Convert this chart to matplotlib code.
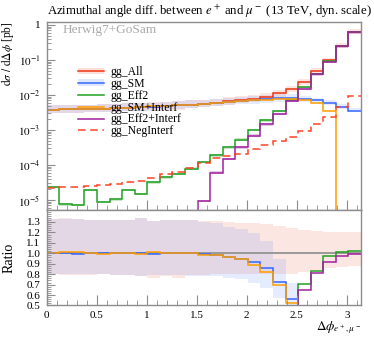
import numpy as np
import matplotlib
matplotlib.use("Agg")
import matplotlib.pyplot as plt
from matplotlib.patches import Patch
from matplotlib.lines import Line2D
from matplotlib.ticker import MultipleLocator, FixedLocator, LogLocator, FuncFormatter, NullFormatter

plt.rcParams['font.family'] = ['Liberation Serif', 'DejaVu Serif']
plt.rcParams['mathtext.fontset'] = 'stix'

# ---------------- data ----------------
n_bins = 25
x_min, x_max = 0.0, np.pi

gg_all = [3.80e-3, 3.86e-3, 3.92e-3, 4.02e-3, 4.10e-3, 4.22e-3, 4.35e-3, 4.50e-3, 4.66e-3, 4.85e-3,
          5.05e-3, 5.30e-3, 5.66e-3, 6.04e-3, 6.58e-3, 7.16e-3, 7.83e-3, 8.84e-3, 1.11e-2, 1.48e-2,
          2.35e-2, 4.80e-2, 9.70e-2, 0.250, 0.620]
gg_sm = [3.80e-3, 3.86e-3, 3.91e-3, 4.03e-3, 4.10e-3, 4.22e-3, 4.36e-3, 4.50e-3, 4.65e-3, 4.85e-3,
         5.06e-3, 5.30e-3, 5.60e-3, 5.95e-3, 6.35e-3, 6.80e-3, 7.20e-3, 7.60e-3, 8.10e-3, 8.30e-3,
         7.80e-3, 7.00e-3, 6.00e-3, 4.60e-3, 3.60e-3]
gg_eff2 = [2.4e-5, 7.5e-6, 7.2e-6, 1.94e-5, 8.7e-6, 1.04e-5, 1.94e-5, 1.5e-5, 3.2e-5, 4.4e-5,
           5.5e-5, 7.9e-5, 1.2e-4, 1.9e-4, 3.2e-4, 5.3e-4, 1.0e-3, 1.9e-3, 3.5e-3, 7.3e-3,
           1.67e-2, 4.0e-2, 9.45e-2, 0.2525, 0.632]
gg_sm_interf = [3.82e-3, 3.90e-3, 3.96e-3, 4.02e-3, 4.09e-3, 4.24e-3, 4.37e-3, 4.46e-3, 4.71e-3, 4.85e-3,
                5.04e-3, 5.30e-3, 5.58e-3, 5.92e-3, 6.32e-3, 6.77e-3, 6.97e-3, 7.25e-3, 7.77e-3, 7.70e-3,
                7.00e-3, 5.90e-3, 3.40e-3, 0.0, 0.0]
gg_eff2_interf = [0.0, 0.0, 0.0, 0.0, 0.0, 0.0, 0.0, 0.0, 0.0, 0.0,
                  0.0, 0.0, 9.3e-6, 6.1e-5, 1.48e-4, 3.2e-4, 6.9e-4, 1.44e-3, 2.9e-3, 6.7e-3,
                  1.53e-2, 3.9e-2, 8.9e-2, 0.244, 0.614]
gg_neg_interf = [2.2e-5, 2.3e-5, 2.4e-5, 2.5e-5, 2.7e-5, 2.9e-5, 3.2e-5, 3.6e-5, 4.2e-5, 5.5e-5,
                 6.4e-5, 8.2e-5, 1.15e-4, 1.6e-4, 1.8e-4, 2.1e-4, 2.9e-4, 3.8e-4, 5.0e-4, 6.5e-4,
                 9.6e-4, 1.5e-3, 2.4e-3, 4.5e-3, 9.1e-3]

# relative uncertainty bands (upper / lower factors)
all_up = [1.33, 1.335, 1.33, 1.32, 1.315, 1.32, 1.32, 1.34, 1.31, 1.32,
          1.315, 1.32, 1.31, 1.305, 1.30, 1.29, 1.29, 1.28, 1.26, 1.24,
          1.22, 1.21, 1.20, 1.20, 1.20]
all_dn = [0.80, 0.795, 0.795, 0.79, 0.80, 0.79, 0.79, 0.78, 0.765, 0.785,
          0.76, 0.79, 0.79, 0.80, 0.80, 0.80, 0.80, 0.80, 0.80, 0.80,
          0.82, 0.84, 0.86, 0.87, 0.88]
sm_up = [1.33, 1.33, 1.335, 1.32, 1.32, 1.315, 1.32, 1.335, 1.31, 1.32,
         1.32, 1.315, 1.31, 1.31, 1.30, 1.30, 1.30, 1.30, 1.30, 1.28,
         1.22, 1.20, 1.18, 1.17, 1.17]
sm_dn = [0.80, 0.80, 0.80, 0.795, 0.80, 0.795, 0.79, 0.785, 0.79, 0.79,
         0.79, 0.785, 0.79, 0.79, 0.79, 0.79, 0.78, 0.78, 0.78, 0.78,
         0.82, 0.85, 0.87, 0.88, 0.88]
eff_rel = 0.08

labels = ['gg_All', 'gg_SM', 'gg_Eff2', 'gg_SM+Interf', 'gg_Eff2+Interf', 'gg_NegInterf']
xticks = [0, 0.5, 1, 1.5, 2, 2.5, 3]
xticklabels = ['0', '0.5', '1', '1.5', '2', '2.5', '3']
rticks = [0.5, 0.6, 0.7, 0.8, 0.9, 1.0, 1.1, 1.2, 1.3]
rticklabels = ['0.5', '0.6', '0.7', '0.8', '0.9', '1.0', '1.1', '1.2', '1.3']

# ---------------- style ----------------
c_all = '#ee3311'
c_sm = '#3366ff'
c_eff2 = '#22a022'
c_smi = '#ff9d00'
c_effi = '#a020a0'
c_neg = '#ff4422'
spine_c = '#8c8c8c'
lw = 1.1
tiny = 1e-12

edges = np.linspace(x_min, x_max, n_bins + 1)
A = np.array(gg_all)
SM = np.array(gg_sm)
E2 = np.array(gg_eff2)
SMI = np.array(gg_sm_interf)
E2I = np.array(gg_eff2_interf)
NEG = np.array(gg_neg_interf)
aup, adn = np.array(all_up), np.array(all_dn)
sup, sdn = np.array(sm_up), np.array(sm_dn)

def pos(v):
    return np.where(v > 0, v, tiny)

fig = plt.figure(figsize=(3.74, 3.37), dpi=100)
ax = fig.add_axes([0.1249, 0.3754, 0.8403, 0.5602])
rax = fig.add_axes([0.1249, 0.0935, 0.8403, 0.2819])

# ---- main panel ----
ax.set_yscale('log')
ax.stairs(A * aup, edges, baseline=A * adn, fill=True, color=c_all, alpha=0.12, lw=0)
ax.stairs(SM * sup, edges, baseline=SM * sdn, fill=True, color=c_sm, alpha=0.12, lw=0)
ax.stairs(pos(E2 * (1 + eff_rel)), edges, baseline=pos(E2 * (1 - eff_rel)), fill=True, color=c_eff2, alpha=0.25, lw=0)
ax.stairs(pos(E2I * (1 + eff_rel)), edges, baseline=pos(E2I * (1 - eff_rel)), fill=True, color=c_effi, alpha=0.25, lw=0)

ax.stairs(A, edges, baseline=None, color=c_all, lw=lw)
ax.stairs(SM, edges, baseline=None, color=c_sm, lw=lw)
ax.stairs(pos(E2), edges, baseline=None, color=c_eff2, lw=lw)
ax.stairs(pos(SMI), edges, baseline=None, color=c_smi, lw=lw)
ax.stairs(pos(E2I), edges, baseline=None, color=c_effi, lw=lw)
ax.stairs(NEG, edges, baseline=None, color=c_neg, lw=lw, linestyle=(0, (5, 3)))

ax.set_xlim(x_min, x_max)
ax.set_ylim(10 ** -5.3, 10 ** 0.094)

def logfmt(v, p):
    e = int(round(np.log10(v)))
    if e == 0:
        return '1'
    return r'$10^{%d}$' % e

ax.yaxis.set_major_locator(LogLocator(base=10, numticks=20))
ax.yaxis.set_minor_locator(LogLocator(base=10, subs=np.arange(2, 10), numticks=20))
ax.yaxis.set_major_formatter(FuncFormatter(logfmt))
ax.yaxis.set_minor_formatter(NullFormatter())
ax.xaxis.set_major_locator(FixedLocator(xticks))
ax.xaxis.set_minor_locator(MultipleLocator(0.1))
ax.tick_params(axis='x', labelbottom=False)

for a in (ax, rax):
    for s in a.spines.values():
        s.set_color(spine_c)
        s.set_linewidth(1.0)
    a.tick_params(which='both', direction='in', colors=spine_c, labelcolor='black',
                  labelsize=8, top=False, right=False)
    a.tick_params(axis='y', which='major', length=6, width=0.8, pad=4.5)
    a.tick_params(axis='y', which='minor', length=3, width=0.6)
    a.tick_params(axis='x', which='major', length=7, width=0.8, pad=4)
    a.tick_params(axis='x', which='minor', length=3.5, width=0.6)

ax.set_title(r'Azimuthal angle diff. between $e^+$ and $\mu^-$ (13 TeV, dyn. scale)',
             loc='left', fontsize=9.2, pad=4.5)
ax.set_ylabel(r'$\mathrm{d}\sigma\ /\ \mathrm{d}\Delta\phi$ [pb]', loc='top', fontsize=8.3)
ax.yaxis.set_label_coords(-0.098, 1.0)

ax.text(0.052, 0.956, 'Herwig7+GoSam', transform=ax.transAxes, color='#aaaaaa',
        fontsize=9.6, ha='left', va='center')

handles = [
    (Patch(facecolor=c_all, alpha=0.15, lw=0), Line2D([], [], color=c_all, lw=lw)),
    (Patch(facecolor=c_sm, alpha=0.15, lw=0), Line2D([], [], color=c_sm, lw=lw)),
    Line2D([], [], color=c_eff2, lw=lw),
    Line2D([], [], color=c_smi, lw=lw),
    Line2D([], [], color=c_effi, lw=lw),
    Line2D([], [], color=c_neg, lw=lw, linestyle=(0, (5, 3))),
]
ax.legend(handles, labels, loc='upper left', bbox_to_anchor=(0.0996, 0.764),
          frameon=False, fontsize=8.5, handlelength=2.2, handletextpad=0.55,
          handleheight=0.5, labelspacing=-0.02, borderpad=0, borderaxespad=0)

# ---- ratio panel ----
rax.stairs(aup, edges, baseline=adn, fill=True, color=c_all, alpha=0.12, lw=0)
rax.stairs(SM * sup / A, edges, baseline=SM * sdn / A, fill=True, color=c_sm, alpha=0.12, lw=0)
rax.stairs(A / A, edges, baseline=None, color='#999999', lw=1.4)
rax.stairs(SM / A, edges, baseline=None, color=c_sm, lw=lw)
rax.stairs(pos(SMI) / A, edges, baseline=None, color=c_smi, lw=lw)
rax.stairs(pos(E2) / A, edges, baseline=None, color=c_eff2, lw=lw)
rax.stairs(pos(E2I) / A, edges, baseline=None, color=c_effi, lw=lw)

rax.set_xlim(x_min, x_max)
rax.set_ylim(0.5, 1.41)
rax.xaxis.set_major_locator(FixedLocator(xticks))
rax.xaxis.set_minor_locator(MultipleLocator(0.1))
rax.set_xticklabels(xticklabels)
rax.yaxis.set_major_locator(FixedLocator(rticks))
rax.set_yticklabels(rticklabels)
rax.yaxis.set_minor_locator(MultipleLocator(0.02))
rax.set_ylabel('Ratio', fontsize=10)
rax.yaxis.set_label_coords(-0.098, 0.5)
rax.set_xlabel(r'$\Delta\phi_{e^+,\mu^-}$', loc='right', fontsize=9.5)
rax.xaxis.set_label_coords(1.0, -0.15)

fig.savefig('out.png', dpi=100)
